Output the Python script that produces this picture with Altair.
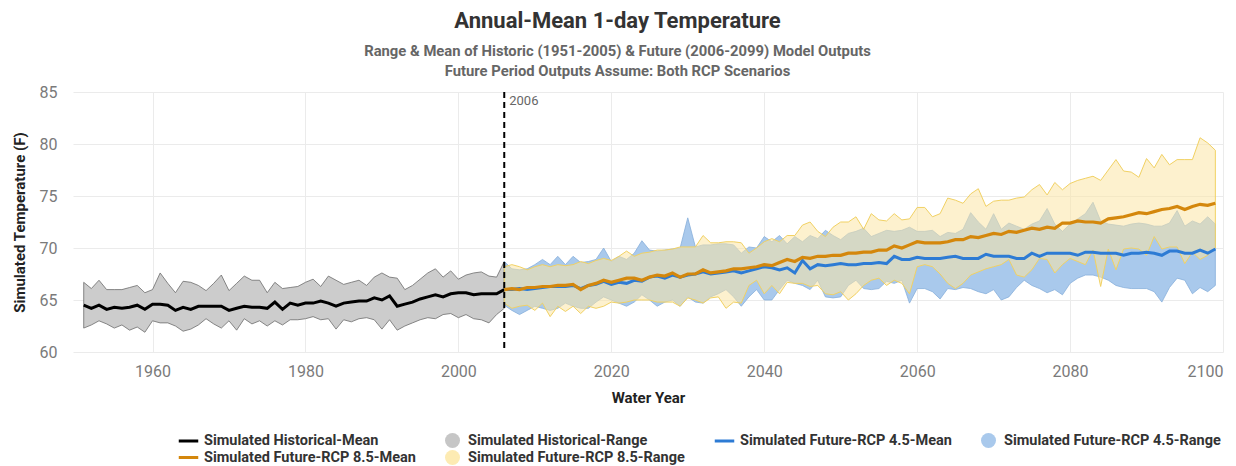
import altair as alt
import pandas as pd

# ---------------- data ----------------
hist_years = list(range(1951, 2007))
hist_mean = [64.5, 64.2, 64.5, 64.1, 64.3, 64.2, 64.3, 64.5, 64.1, 64.6,
             64.6, 64.5, 64.0, 64.3, 64.1, 64.4, 64.4, 64.4, 64.4, 64.0,
             64.2, 64.4, 64.3, 64.3, 64.2, 64.8, 64.1, 64.7, 64.5, 64.7,
             64.7, 64.9, 64.7, 64.4, 64.7, 64.8, 64.9, 64.9, 65.2, 65.0,
             65.4, 64.4, 64.6, 64.8, 65.1, 65.3, 65.5, 65.3, 65.6, 65.7,
             65.7, 65.5, 65.6, 65.6, 65.6, 66.0]
hist_hi = [66.7, 66.1, 66.9, 66.0, 66.0, 66.0, 66.2, 66.4, 65.7, 66.0,
           67.6, 66.6, 65.7, 66.8, 66.7, 66.4, 65.9, 66.6, 67.4, 65.9,
           66.6, 67.3, 66.9, 66.9, 65.7, 66.7, 66.1, 66.2, 66.3, 66.7,
           67.0, 66.3, 67.3, 66.9, 66.5, 66.7, 66.9, 66.4, 67.2, 67.6,
           67.2, 67.1, 66.0, 66.4, 67.0, 67.6, 68.0, 67.2, 67.8, 67.0,
           67.4, 67.6, 67.7, 67.3, 67.2, 68.7]
hist_lo = [62.3, 62.6, 63.0, 62.7, 62.3, 62.6, 62.1, 62.4, 61.9, 63.0,
           62.8, 62.8, 62.5, 62.0, 62.2, 62.6, 63.2, 62.7, 62.3, 63.0,
           62.1, 63.2, 62.7, 63.0, 62.5, 63.0, 62.6, 63.1, 63.1, 63.2,
           63.4, 63.1, 63.2, 62.2, 63.1, 62.9, 63.2, 63.3, 63.1, 62.2,
           63.1, 62.1, 62.5, 62.8, 63.1, 63.3, 63.2, 63.6, 63.7, 63.3,
           63.6, 63.2, 63.1, 62.8, 63.6, 64.2]

fut_years = list(range(2006, 2100))
rcp45_mean = [66.0, 66.0, 66.1, 66.0, 66.1, 66.2, 66.3, 66.3, 66.3, 66.4,
              66.1, 66.4, 66.5, 66.8, 66.5, 66.7, 66.6, 66.9, 66.8, 67.2,
              67.3, 67.1, 67.4, 67.2, 67.4, 67.5, 67.7, 67.5, 67.6, 67.7,
              67.8, 67.6, 67.8, 68.0, 68.2, 68.1, 67.9, 68.1, 67.6, 68.8,
              68.0, 68.4, 68.3, 68.4, 68.5, 68.4, 68.4, 68.5, 68.5, 68.6,
              68.5, 69.2, 68.9, 68.9, 69.1, 69.0, 69.0, 69.0, 69.1, 69.2,
              69.0, 69.0, 69.0, 69.4, 69.2, 69.2, 69.2, 69.0, 69.0, 69.5,
              69.2, 69.5, 69.5, 69.5, 69.5, 69.3, 69.6, 69.6, 69.5, 69.5,
              69.5, 69.3, 69.5, 69.5, 69.6, 69.5, 69.3, 69.7, 69.7, 69.5,
              69.5, 69.8, 69.5, 69.9]
rcp45_hi = [68.7, 68.0, 67.9, 68.0, 68.4, 68.9, 68.4, 69.2, 68.4, 69.2,
            68.6, 68.7, 68.9, 70.0, 68.7, 69.2, 68.9, 69.5, 70.7, 69.8,
            69.7, 69.8, 69.9, 70.0, 72.9, 70.1, 70.3, 70.3, 70.4, 70.4,
            70.3, 69.5, 70.1, 70.0, 71.1, 70.6, 71.2, 70.4, 71.1, 70.6,
            71.2, 70.9, 71.7, 71.2, 70.8, 71.4, 71.6, 71.9, 71.1, 71.4,
            71.7, 71.6, 71.7, 72.0, 71.6, 71.6, 71.7, 71.1, 71.5, 71.4,
            71.8, 73.4, 72.5, 71.8, 73.3, 71.8, 72.4, 72.1, 71.8, 72.3,
            72.6, 73.8, 72.3, 71.6, 72.3, 72.8, 73.3, 74.4, 72.6, 72.3,
            72.2, 72.1, 72.3, 72.4, 72.3, 72.1, 72.1, 72.4, 73.6, 72.1,
            72.6, 72.3, 73.0, 72.3]
rcp45_lo = [64.5, 64.0, 63.6, 64.0, 64.4, 64.2, 64.0, 64.2, 64.7, 64.4,
            64.2, 64.2, 64.8, 65.3, 65.0, 64.7, 64.4, 64.8, 65.5, 65.0,
            64.4, 64.8, 65.0, 64.4, 65.3, 64.8, 64.7, 65.3, 65.6, 66.0,
            65.3, 64.4, 65.3, 66.0, 65.0, 65.0, 66.0, 66.9, 66.6, 66.4,
            66.0, 66.9, 65.3, 65.2, 65.3, 66.4, 66.9, 66.1, 66.0, 66.1,
            66.8, 66.6, 66.9, 64.7, 66.1, 66.1, 65.8, 65.1, 66.1, 66.0,
            66.2, 66.1, 65.8, 65.6, 66.0, 65.0, 65.3, 66.2, 66.9, 66.4,
            66.1, 65.7, 66.0, 65.5, 66.6, 67.1, 67.4, 67.4, 67.2, 66.9,
            66.4, 66.2, 66.1, 66.1, 66.1, 65.8, 64.8, 66.2, 67.1, 66.9,
            65.6, 66.2, 65.8, 66.4]
rcp85_mean = [66.0, 66.1, 66.0, 66.2, 66.2, 66.3, 66.3, 66.4, 66.4, 66.5,
              66.0, 66.4, 66.6, 66.9, 66.7, 66.9, 67.1, 67.1, 66.9, 67.2,
              67.4, 67.3, 67.6, 67.2, 67.5, 67.5, 67.9, 67.6, 67.7, 67.8,
              68.0, 68.0, 68.1, 68.2, 68.4, 68.3, 68.6, 68.9, 68.7, 69.1,
              69.0, 69.2, 69.2, 69.3, 69.3, 69.5, 69.5, 69.6, 69.6, 69.8,
              69.8, 70.2, 70.0, 70.3, 70.6, 70.5, 70.5, 70.5, 70.6, 70.8,
              70.8, 71.1, 71.0, 71.2, 71.4, 71.3, 71.6, 71.5, 71.7, 71.9,
              71.8, 72.0, 71.9, 72.4, 72.4, 72.6, 72.5, 72.5, 72.4, 72.8,
              72.9, 73.0, 73.2, 73.4, 73.3, 73.5, 73.7, 73.8, 74.0, 73.7,
              74.0, 74.2, 74.1, 74.3]
rcp85_hi = [68.2, 68.4, 68.2, 67.9, 68.2, 68.4, 68.2, 68.4, 68.3, 68.4,
            68.7, 68.5, 68.8, 69.0, 68.8, 69.2, 69.7, 69.2, 69.5, 69.6,
            69.8, 69.8, 69.9, 70.1, 70.1, 70.1, 71.2, 70.5, 70.5, 70.6,
            70.6, 70.5, 69.5, 70.0, 70.6, 70.9, 70.6, 71.2, 71.2, 72.2,
            72.5, 71.6, 71.1, 72.0, 72.5, 72.5, 73.0, 71.8, 73.3, 72.7,
            72.6, 73.3, 72.7, 72.8, 73.9, 73.9, 73.0, 73.3, 74.8, 74.6,
            74.3, 75.2, 75.7, 74.0, 74.5, 74.6, 74.6, 74.8, 74.9, 75.6,
            76.1, 75.1, 76.3, 75.6, 76.2, 76.5, 76.7, 76.9, 76.5, 77.5,
            78.5, 77.4, 77.3, 76.8, 78.6, 77.7, 79.0, 78.0, 78.5, 78.5,
            78.5, 80.6, 80.1, 79.4]
rcp85_lo = [64.7, 64.2, 64.4, 64.5, 64.0, 64.7, 63.4, 64.4, 63.9, 64.4,
            63.7, 64.4, 64.2, 64.4, 64.8, 64.7, 64.8, 65.0, 65.0, 65.0,
            64.8, 64.8, 64.8, 64.4, 65.2, 65.0, 64.7, 65.2, 65.3, 64.2,
            64.8, 64.7, 66.4, 66.9, 65.6, 66.4, 65.6, 66.7, 66.6, 66.6,
            66.3, 66.4, 65.6, 65.5, 65.8, 65.0, 65.6, 66.4, 66.9, 67.1,
            66.4, 66.9, 66.6, 65.6, 68.2, 68.4, 68.2, 67.5, 66.6, 66.1,
            66.6, 67.4, 67.7, 68.0, 68.2, 68.4, 68.9, 67.4, 67.2, 67.9,
            69.0, 68.9, 67.6, 68.4, 69.0, 68.7, 68.4, 69.8, 66.3, 69.9,
            67.9, 69.9, 70.0, 69.9, 69.3, 71.1, 69.9, 70.1, 70.1, 68.5,
            69.6, 68.9, 69.3, 70.0]

split_year = [2006]
split_label = ["2006"]

series_names = ["Simulated Historical-Mean", "Simulated Historical-Range",
                "Simulated Future-RCP 4.5-Mean", "Simulated Future-RCP 4.5-Range",
                "Simulated Future-RCP 8.5-Mean", "Simulated Future-RCP 8.5-Range"]

x_ticks = [1960, 1980, 2000, 2020, 2040, 2060, 2080, 2100]
y_ticks = [60, 65, 70, 75, 80, 85]

# ---------------- styles ----------------
C_HIST = "#000000"
C_HIST_FILL = "#cccccc"
C_45 = "#2d7bd4"
C_45_FILL = "#a9c9ec"
C_85 = "#d4870c"
C_85_FILL = "#fbe5a4"
LINE_SHAPE = "M-1.3,-0.2L1.3,-0.2L1.3,0.2L-1.3,0.2Z"
legend_colors = [C_HIST, "#c6c6c6", C_45, "#a9c9ec", C_85, "#fdebb3"]
legend_shapes = [LINE_SHAPE, "circle", LINE_SHAPE, "circle", LINE_SHAPE, "circle"]

hist_df = pd.DataFrame({"year": hist_years, "mean": hist_mean, "lo": hist_lo, "hi": hist_hi})
fut_df = pd.DataFrame({"year": fut_years,
                       "m45": rcp45_mean, "lo45": rcp45_lo, "hi45": rcp45_hi,
                       "m85": rcp85_mean, "lo85": rcp85_lo, "hi85": rcp85_hi})
split_df = pd.DataFrame({"year": split_year, "label": split_label})
legend_df = pd.DataFrame({"series": series_names})

x_scale = alt.Scale(domain=[1949.6, 2100], nice=False, zero=False)
y_scale = alt.Scale(domain=[60, 85], nice=False, zero=False)


def X():
    return alt.X("year:Q", scale=x_scale,
                 axis=alt.Axis(values=x_ticks, format="d", title="Water Year",
                               labelPadding=11, titlePadding=11))


def Y(field):
    return alt.Y(field, type="quantitative", scale=y_scale,
                 axis=alt.Axis(values=y_ticks, title="Simulated Temperature (F)",
                               labelPadding=16, titlePadding=12))


hist_area = alt.Chart(hist_df).mark_area(
    fill=C_HIST_FILL, fillOpacity=1, stroke="#6c6c6c", strokeWidth=0.8
).encode(x=X(), y=Y("lo"), y2="hi:Q")

area45 = alt.Chart(fut_df).mark_area(
    fill=C_45_FILL, fillOpacity=1, stroke="#86aedb", strokeWidth=0.8
).encode(x=X(), y=Y("lo45"), y2="hi45:Q")

area85 = alt.Chart(fut_df).mark_area(
    fill=C_85_FILL, fillOpacity=0.54, stroke="#f1d163", strokeWidth=1
).encode(x=X(), y=Y("lo85"), y2="hi85:Q")

hist_line = alt.Chart(hist_df).mark_line(color=C_HIST, strokeWidth=3).encode(x=X(), y=Y("mean"))
line45 = alt.Chart(fut_df).mark_line(color=C_45, strokeWidth=3).encode(x=X(), y=Y("m45"))
line85 = alt.Chart(fut_df).mark_line(color=C_85, strokeWidth=3.2).encode(x=X(), y=Y("m85"))

vrule = alt.Chart(split_df).mark_rule(color="black", strokeWidth=2, strokeDash=[6, 4]).encode(x=X())
vtext = alt.Chart(split_df).mark_text(
    align="left", baseline="top", dx=5, dy=3, color="#666666", fontSize=13, font="Roboto"
).encode(x=X(), y=alt.datum(85), text="label:N")

leg = alt.Legend(orient="none", legendX=108, legendY=341, columns=4, direction="horizontal",
                 title=None, labelFont="Roboto", labelFontSize=14.5, labelFontWeight="bold",
                 labelColor="#333333", symbolSize=225, symbolStrokeWidth=0,
                 columnPadding=29, rowPadding=1, labelOffset=8, padding=0, labelLimit=400)

legend_layer = alt.Chart(legend_df).mark_point(filled=True, opacity=1, clip=True, size=10).encode(
    x=alt.value(-300), y=alt.value(-300),
    color=alt.Color("series:N", scale=alt.Scale(domain=series_names, range=legend_colors), legend=leg),
    shape=alt.Shape("series:N", scale=alt.Scale(domain=series_names, range=legend_shapes), legend=leg),
)

chart = alt.layer(
    hist_area, area45, area85, hist_line, line45, line85, vrule, vtext, legend_layer
).properties(
    width=1150, height=260,
    autosize=alt.AutoSizeParams(type="none"),
    padding={"left": 65, "top": 84, "right": 5, "bottom": 114},
    title=alt.TitleParams(
        text="Annual-Mean 1-day Temperature",
        subtitle=["Range & Mean of Historic (1951-2005) & Future (2006-2099) Model Outputs",
                  "Future Period Outputs Assume: Both RCP Scenarios"],
        font="Roboto", fontSize=22, fontWeight="bold", color="#333333",
        subtitleFont="Roboto", subtitleFontSize=14.8, subtitleFontWeight="bold",
        subtitleColor="#666666", subtitlePadding=11, subtitleLineHeight=20,
        anchor="middle", frame="bounds", offset=4,
    ),
).configure_view(stroke=None).configure_axis(
    grid=True, gridColor="#ebebeb", gridWidth=1, domain=False, ticks=False,
    labelColor="#7a7a7a", labelFontSize=16, labelFont="Roboto",
    titleFont="Roboto", titleFontSize=15, titleFontWeight="bold", titleColor="#222222",
)

chart.save("out.html", embed_options={"renderer": "svg", "actions": False})
